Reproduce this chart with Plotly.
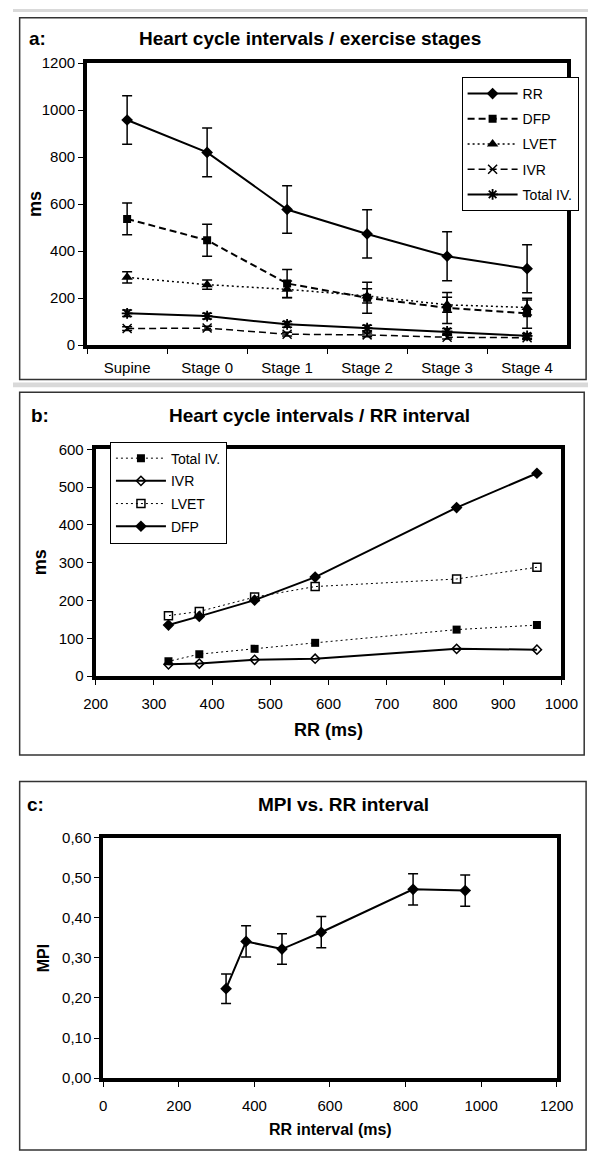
import plotly.graph_objects as go

# ---------------- data ----------------
stages = ["Supine", "Stage 0", "Stage 1", "Stage 2", "Stage 3", "Stage 4"]
rr_ms = [958, 820, 577, 473, 378, 325]
rr_err = [103, 104, 101, 103, 104, 102]
dfp_ms = [537, 446, 262, 201, 158, 135]
dfp_err = [68, 68, 60, 66, 66, 64]
lvet_ms = [288, 257, 237, 209, 171, 160]
lvet_err = [24, 20, 36, 30, 32, 32]
ivr_ms = [70, 72, 46, 43, 33, 31]
ivr_err = [8, 8, 8, 8, 8, 8]
totiv_ms = [135, 123, 88, 72, 58, 39]
totiv_err = [14, 12, 12, 12, 12, 10]
mpi = [0.468, 0.471, 0.364, 0.322, 0.341, 0.223]
mpi_err = [0.039, 0.039, 0.039, 0.038, 0.039, 0.037]

# ---------------- layout helpers ----------------
W, H = 605, 1159
FONT = "Liberation Sans, Arial, Helvetica, sans-serif"


def fx(px):
    return px / W


def fy(py):
    return 1 - py / H


def eb(arr, thick=1.5, width=5):
    return dict(type="data", array=arr, visible=True, color="black",
                thickness=thick, width=width)


fig = go.Figure()

DASH = "7px,4px"
DOT = "2px,3px"

# ---------------- panel a ----------------
fig.add_trace(go.Scatter(x=stages, y=rr_ms, name="RR", mode="lines+markers",
                         line=dict(color="black", width=2),
                         marker=dict(symbol="diamond", size=9, color="black"),
                         error_y=eb(rr_err), xaxis="x", yaxis="y",
                         legend="legend", legendgroup="a1"))
fig.add_trace(go.Scatter(x=stages, y=dfp_ms, name="DFP", mode="lines+markers",
                         line=dict(color="black", width=2, dash=DASH),
                         marker=dict(symbol="square", size=8, color="black"),
                         error_y=eb(dfp_err), xaxis="x", yaxis="y",
                         legend="legend", legendgroup="a2"))
fig.add_trace(go.Scatter(x=stages, y=lvet_ms, name="LVET", mode="lines+markers",
                         line=dict(color="black", width=1.5, dash=DOT),
                         marker=dict(symbol="triangle-up", size=10, color="black"),
                         error_y=eb(lvet_err), xaxis="x", yaxis="y",
                         legend="legend", legendgroup="a3"))
fig.add_trace(go.Scatter(x=stages, y=ivr_ms, name="IVR", mode="lines+markers",
                         line=dict(color="black", width=1.5, dash=DASH),
                         marker=dict(symbol="x-thin-open", size=9, color="black",
                                     line=dict(color="black", width=1.5)),
                         error_y=eb(ivr_err), xaxis="x", yaxis="y",
                         legend="legend", legendgroup="a4"))
fig.add_trace(go.Scatter(x=stages, y=totiv_ms, name="Total IV.", mode="lines+markers",
                         line=dict(color="black", width=2),
                         marker=dict(symbol="asterisk-open", size=9, color="black",
                                     line=dict(color="black", width=1.8)),
                         error_y=eb(totiv_err), xaxis="x", yaxis="y",
                         legend="legend", legendgroup="a5"))

# ---------------- panel b ----------------
fig.add_trace(go.Scatter(x=rr_ms, y=totiv_ms, name="Total IV.", mode="lines+markers",
                         line=dict(color="black", width=1, dash=DOT),
                         marker=dict(symbol="square", size=8, color="black"),
                         xaxis="x2", yaxis="y2", legend="legend2", legendgroup="b1"))
fig.add_trace(go.Scatter(x=rr_ms, y=ivr_ms, name="IVR", mode="lines+markers",
                         line=dict(color="black", width=2),
                         marker=dict(symbol="diamond-open", size=7, color="black",
                                     line=dict(color="black", width=1.5)),
                         xaxis="x2", yaxis="y2", legend="legend2", legendgroup="b2"))
fig.add_trace(go.Scatter(x=rr_ms, y=lvet_ms, name="LVET", mode="lines+markers",
                         line=dict(color="black", width=1, dash=DOT),
                         marker=dict(symbol="square-open", size=8, color="black",
                                     line=dict(color="black", width=1.5)),
                         xaxis="x2", yaxis="y2", legend="legend2", legendgroup="b3"))
fig.add_trace(go.Scatter(x=rr_ms, y=dfp_ms, name="DFP", mode="lines+markers",
                         line=dict(color="black", width=2),
                         marker=dict(symbol="diamond", size=9, color="black"),
                         xaxis="x2", yaxis="y2", legend="legend2", legendgroup="b4"))

# ---------------- panel c ----------------
fig.add_trace(go.Scatter(x=rr_ms, y=mpi, name="MPI", mode="lines+markers",
                         line=dict(color="black", width=2),
                         marker=dict(symbol="diamond", size=9, color="black"),
                         error_y=eb(mpi_err), xaxis="x3", yaxis="y3",
                         showlegend=False))

tickfont = dict(family=FONT, size=15, color="black")


def axis_common(**kw):
    d = dict(showgrid=False, zeroline=False, showline=True, linecolor="black",
             linewidth=4, mirror=True, ticks="outside", ticklen=5, tickwidth=1,
             tickcolor="black", tickfont=tickfont, fixedrange=True)
    d.update(kw)
    return d


fig.update_layout(
    xaxis=axis_common(domain=[fx(78), fx(583)], anchor="y", type="category",
                      categoryorder="array", categoryarray=stages,
                      range=[-0.5, 5.5], tickson="boundaries",
                      ticklabelstandoff=6),
    yaxis=axis_common(domain=[fy(341), fy(55)], anchor="x", range=[0, 1200],
                      dtick=200, tick0=0),
    xaxis2=axis_common(domain=[fx(87), fx(577)], anchor="y2", range=[200, 1000],
                       dtick=100, tick0=0, ticklabelstandoff=6),
    yaxis2=axis_common(domain=[fy(677), fy(447)], anchor="x2", range=[0, 600],
                       dtick=100, tick0=0),
    xaxis3=axis_common(domain=[fx(95), fx(572)], anchor="y3", range=[0, 1200],
                       dtick=200, tick0=0, ticklabelstandoff=6),
    yaxis3=axis_common(domain=[fy(1085), fy(841)], anchor="x3", range=[0, 0.6],
                       dtick=0.1, tick0=0, tickformat=".2f"),
)

legend_common = dict(bgcolor="white", bordercolor="black", borderwidth=1,
                     font=dict(family=FONT, size=14, color="black"),
                     xanchor="left", yanchor="top", itemwidth=50,
                     traceorder="grouped", itemclick=False, itemdoubleclick=False)
fig.update_layout(
    legend=dict(x=fx(472), y=fy(69), tracegroupgap=4, **legend_common),
    legend2=dict(x=fx(102), y=fy(439), tracegroupgap=1.5, **legend_common),
)

# outer panel frames and separators
shapes = []
for (x0, y0, x1, y1) in [(7, 9, 603, 376), (7, 389, 601, 757), (7, 784, 603, 1158)]:
    shapes.append(dict(type="rect", xref="paper", yref="paper",
                       x0=fx(x0), x1=fx(x1), y0=fy(y1), y1=fy(y0),
                       line=dict(color="#333333", width=1.5), layer="below"))
for (y0, y1) in [(0, 3), (379, 384)]:
    shapes.append(dict(type="rect", xref="paper", yref="paper",
                       x0=0, x1=1, y0=fy(y1), y1=fy(y0),
                       line=dict(width=0), fillcolor="#d9d9d9", layer="below"))

ann = []


def add_text(text, px, py, size, xanchor="center", angle=0):
    ann.append(dict(text="<b>%s</b>" % text, x=fx(px), y=fy(py), xref="paper",
                    yref="paper", xanchor=xanchor, yanchor="middle",
                    showarrow=False, textangle=angle,
                    font=dict(size=size, family=FONT, color="black")))


add_text("a:", 15, 30, 19, "left")
add_text("Heart cycle intervals / exercise stages", 313, 30, 19)
add_text("ms", 23, 198, 18, angle=-90)

add_text("b:", 17, 413, 19, "left")
add_text("Heart cycle intervals / RR interval", 322, 413, 19)
add_text("ms", 28, 562, 18, angle=-90)
add_text("RR (ms)", 332, 732, 18)

add_text("c:", 13, 807, 19, "left")
add_text("MPI vs. RR interval", 348, 807, 19)
add_text("MPI", 33, 963, 16, angle=-90)
add_text("RR interval (ms)", 334, 1137, 16)

fig.update_layout(
    width=W, height=H, autosize=False,
    margin=dict(l=0, r=0, t=0, b=0, pad=0),
    paper_bgcolor="white", plot_bgcolor="white",
    separators=",.",
    shapes=shapes, annotations=ann,
    font=dict(family=FONT, size=14, color="black"),
)

fig.write_html(
    "out.html",
    config=dict(displayModeBar=False),
    post_script="document.body.style.margin='0';"
                "document.documentElement.style.overflow='hidden';",
)
